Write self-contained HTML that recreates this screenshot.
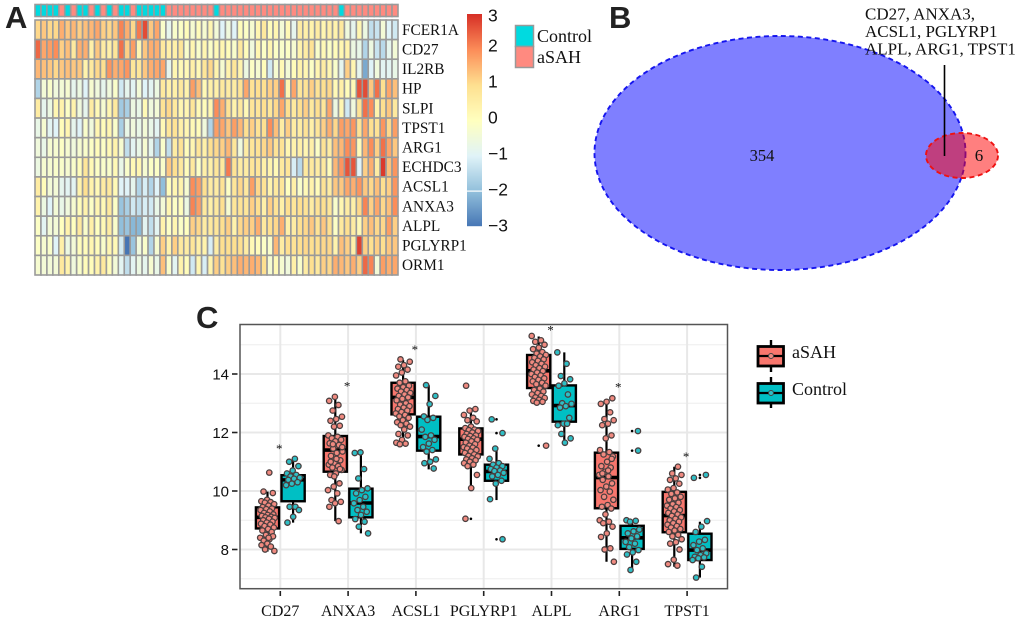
<!DOCTYPE html>
<html lang="en">
<head>
<meta charset="utf-8">
<title>aSAH figure: heatmap, Venn diagram and boxplots</title>
<style>
html,body{margin:0;padding:0;background:#fff;}
svg{display:block;}
.serif{font-family:"Liberation Serif",serif;fill:#111;}
.sans{font-family:"Liberation Sans",sans-serif;fill:#111;}
.letter{font-family:"Liberation Sans",sans-serif;font-weight:700;font-size:31px;fill:#222;}
</style>
</head>
<body>
<svg id="fig" width="1020" height="621" viewBox="0 0 1020 621" xmlns="http://www.w3.org/2000/svg">
  <text class="letter" x="5" y="28">A</text>
  <text class="letter" x="609" y="28">B</text>
  <text class="letter" x="196" y="328">C</text>

  <g id="annotation"></g>
  <g id="heat"></g>
  <g id="heatLabels"></g>
  <g id="colorbar"></g>

  <g>
    <rect x="515.5" y="25.5" width="18" height="21" fill="#00DAE0" stroke="#999" stroke-width="1.5"/>
    <rect x="515.5" y="46.5" width="18" height="21" fill="#FF8A80" stroke="#999" stroke-width="1.5"/>
    <text class="serif" x="537" y="42" font-size="18">Control</text>
    <text class="serif" x="537" y="63" font-size="18">aSAH</text>
  </g>

  <g>
    <ellipse cx="780" cy="153" rx="185.5" ry="117" fill="#7F7FFF" stroke="#1515EE" stroke-width="1.9" stroke-dasharray="5 3.5"/>
    <ellipse cx="962" cy="155.5" rx="36" ry="22.5" fill="rgba(255,0,0,0.5)" stroke="#EE1111" stroke-width="1.9" stroke-dasharray="5 3.5"/>
    <text class="serif" x="762" y="161" font-size="16.500" text-anchor="middle">354</text>
    <text class="serif" x="979" y="161" font-size="17" text-anchor="middle">6</text>
    <line x1="944.5" y1="65" x2="944.5" y2="156" stroke="#000" stroke-width="1.6"/>
    <text class="serif" x="865" y="19.500" font-size="17">CD27, ANXA3,</text>
    <text class="serif" x="865" y="37" font-size="17">ACSL1, PGLYRP1</text>
    <text class="serif" x="865" y="54.500" font-size="17">ALPL, ARG1, TPST1</text>
  </g>

  <g id="box"></g>

  <g>
    <line x1="771" y1="340" x2="771" y2="372" stroke="#000" stroke-width="2.4"/>
    <rect x="758" y="346.500" width="25.500" height="19.500" fill="#F8766D" stroke="#000" stroke-width="2.800"/>
    <line x1="758" y1="356" x2="784" y2="356" stroke="#000" stroke-width="2.200"/>
    <circle cx="771" cy="356" r="2.500" fill="#F08A80" stroke="#444"/>
    <text class="serif" x="792" y="358" font-size="18">aSAH</text>
    <line x1="771" y1="377" x2="771" y2="408" stroke="#000" stroke-width="2.4"/>
    <rect x="758" y="383.500" width="25.500" height="19.500" fill="#00BFC4" stroke="#000" stroke-width="2.800"/>
    <line x1="758" y1="393" x2="784" y2="393" stroke="#000" stroke-width="2.200"/>
    <circle cx="771" cy="393" r="2.500" fill="#2FBFC6" stroke="#444"/>
    <text class="serif" x="792" y="395" font-size="18">Control</text>
  </g>
</svg>

<script>
/* ---------- Heatmap data ---------- */
const heatGenes = ["FCER1A","CD27","IL2RB","HP","SLPI","TPST1","ARG1","ECHDC3","ACSL1","ANXA3","ALPL","PGLYRP1","ORM1"];
const controlColumns = [0,1,2,3,5,7,8,10,12,14,15,17,18,19,20,21,30,51];
const colorbarTicks = [3,2,1,0,-1,-2,-3];
const heatFCER1A = [1.1,1.3,1.1,1.1,1.6,1.3,1.5,1.2,1.4,1.5,1.7,1.2,1.1,1.3,2.1,1.6,1.1,2.2,2.7,1.3,1.7,-.2,-.8,-.2,-.1,.1,-.3,.1,-.3,.3,-.4,-1,-.5,-1,.1,-.1,-.3,.3,.7,.1,.3,-.4,.2,-.8,.6,.5,.4,.6,.3,.5,.4,.7,-.5,-.8,.3,-.6,-1.4,-1.3,-.4,-1,-1.2];
const heatCD27 = [2.4,1.7,1.8,2,1.2,1.4,.7,1.6,1.6,.5,1.3,.6,.5,.8,2.3,1.2,1.8,.3,1.3,1.6,1.6,.7,.5,.5,.8,-.2,.3,-.2,.3,-.1,.2,.3,.1,-.2,.7,.1,-.5,.3,-.1,.3,-.1,-.2,-.1,-.3,.4,.6,.9,-.2,.2,-.1,.1,.3,.4,-.6,-.7,-1.6,-.6,-1.3,-1.5,-.8,-.4];
const heatIL2RB = [1.5,1.4,1.3,1.1,1.3,1.4,1.3,1.3,.4,.7,1.1,1,1.9,1.6,1.7,1.9,.8,.8,1.3,1.6,1.7,1.7,-.8,.3,.2,.2,.5,.2,.8,1.1,.4,-.3,.4,.8,.4,-.6,-.1,-.3,.1,-1.2,-.3,.2,-.4,.1,.4,.3,-.1,.3,.6,.3,-.2,-.8,1.2,.3,-.8,-2.3,-1,-.5,-.9,-.9,-.7];
const heatHP = [-1.6,-.4,-.2,-.5,-.4,-.3,-.8,-.6,-1,-.3,-.5,-.8,-.5,-.2,-1.2,-.8,-.9,-.4,-1,-.9,-.6,.7,.5,.5,.7,.4,1.8,1.4,.2,.5,.5,.7,.6,.6,.9,1.7,.9,1,1,1.2,1.2,2.3,.3,1.7,.8,.9,1.2,.9,1,1.1,.2,.5,.1,.2,2.6,2.7,1.3,2.3,1,1.7,1.4];
const heatSLPI = [.6,-.8,-.6,.3,.4,-.1,.4,-.5,-.8,.6,.2,-.3,.3,.7,-1.8,-1.7,-.6,-.7,.2,-.5,-.4,.9,1.1,.7,.3,.3,.8,.2,.1,.3,2,1.6,.9,.4,.7,.2,.8,.8,1,.8,1.1,1.7,1,.7,1,1.2,.7,1,.8,1.7,-.6,.3,-1.2,-.5,.9,2.3,2,.4,1,1.3,.7];
const heatTPST1 = [-.7,-.3,-.9,-1,.1,.3,-.8,-1,-.2,-.5,.3,.1,.3,-.2,-1.7,-.7,-.5,-.7,-.4,-.7,-.9,.2,.8,.9,.5,.3,.2,.1,-.5,-1.6,1.8,1.7,1.3,1.8,1.5,1,1.2,.9,1,2,1.4,.6,1.2,.6,.6,.9,.5,.8,1.2,1.6,1.1,1.8,1.7,1.9,.9,1.7,1,.9,1.9,1.1,1.8];
const heatARG1 = [-.5,-.7,-.3,-.3,-.1,-.3,-.5,-.3,-.2,-.1,.1,-.1,.2,.4,-.3,-1.4,-.9,-.7,-.3,-.8,-1.6,-.2,-1.4,.6,.9,.1,.3,.8,.5,1,1.1,1.2,1.5,.8,-.5,.6,.8,.9,1.1,1.3,.9,.9,.3,.4,.5,.3,.5,-.1,.9,.6,1.4,1.5,2,1.9,.1,1.5,2,1.2,2.3,1.7,1.3];
const heatECHDC3 = [-.6,-.3,-.3,-.2,-.2,-.3,-.2,.1,.8,.2,-.1,-.2,-.2,.2,-.7,-.2,.2,.3,-.3,-.1,-.1,-.2,1.3,1,.7,.1,.7,-.1,.5,.5,.8,.7,2.2,.9,.6,.6,.8,.8,.5,.4,.2,.7,.8,-1.1,-1.5,.7,.7,.6,.7,.1,1.5,1.9,2.6,2.6,-1,1.2,1.6,.6,2.9,1.4,1.9];
const heatACSL1 = [.6,.1,-.4,-.4,-.8,-.9,-.9,.4,1,.4,.2,.6,.7,.2,-1,-1,-.8,-1.6,-1.1,-1.6,-1,-2,.1,.3,.4,-.3,2,1.8,1,.6,.6,.9,-.1,.8,1.1,.7,1.8,1.1,.9,.4,.7,.8,0,.5,-.2,.2,.4,.1,.9,.6,1.3,1.3,1.7,1.6,1.9,1.3,1.1,1.4,1,1.2,1.9];
const heatANXA3 = [.4,-.6,-1,-.4,-.7,-.5,-.3,.1,.4,-.1,.3,.2,.7,-.1,-1.9,-1.7,-1.2,-1.4,-1.1,-1.2,-.7,-.4,.3,-.1,.1,-.6,2.1,1.8,.7,.5,.7,1,-.3,.8,.9,.8,1.2,1,.5,1.2,.9,.5,1,.8,1,.9,.6,.9,1,.8,-.2,.3,.6,.5,1.1,2.1,1.2,1.7,1.1,1.4,2];
const heatALPL = [-.1,-.9,-.4,-.4,0,.4,0,.7,-.2,.5,0,.2,.6,-.2,-2,-1.9,-2.1,-2.1,-.9,-1.4,-.9,.4,-.1,.3,-.1,0,1.2,1.1,.6,.7,.8,1,1.2,.4,1.1,1.2,1.2,1.6,.7,1,1.1,1.6,.5,.6,1,1.1,1.3,.9,1.3,1,-.1,.7,1,.6,.2,1.2,1.4,1.1,1.1,1.8,1.2];
const heatPGLYRP1 = [-.1,-.3,-.2,-1,.5,-.6,-.4,.1,.1,.3,.1,-.2,.3,.2,-1.2,-3,-1.9,-.5,-.2,-1.6,-.3,1.2,.4,1.2,.7,.6,.8,.5,.4,-1.1,.6,1,1,1,1,.6,.2,.1,-.1,-.2,1.5,.6,1,.9,1,1.1,1,1,1.1,1.1,.4,1.4,1.2,.5,2.8,1.2,1,1.2,1,1.3,1.3];
const heatORM1 = [-.3,-.4,-.4,-.4,.7,.4,-.5,-.2,.1,.1,.4,.7,.1,-.4,-.9,-1.4,-.9,-.6,-.8,-.3,-.7,1.4,-.2,-.9,.4,.1,-1.2,.3,-1.1,.4,1.2,.9,1.2,1.4,1.6,1.5,1.6,1.5,1,-.3,.2,-.3,-.5,.5,-.2,.6,1,.7,1.2,1.1,1.6,1.5,1.3,1.6,1.2,2.4,2.1,-.4,1.8,1.6,1.7];
const heatRows = [heatFCER1A,heatCD27,heatIL2RB,heatHP,heatSLPI,heatTPST1,heatARG1,heatECHDC3,heatACSL1,heatANXA3,heatALPL,heatPGLYRP1,heatORM1];

/* ---------- Boxplot data ---------- */
const boxGenes = ["CD27","ANXA3","ACSL1","PGLYRP1","ALPL","ARG1","TPST1"];
const yTicks = [8,10,12,14];
const yMinorGrid = [7,9,11,13,15];
const asahQ1 = [8.72,10.66,12.62,11.25,13.52,9.41,8.59];
const asahMedian = [9.1,11.4,13.2,11.77,14.11,10.46,9.16];
const asahQ3 = [9.44,11.88,13.7,12.14,14.65,11.31,9.97];
const asahWhiskerLow = [7.93,8.97,11.57,10.09,13.0,7.58,7.41];
const asahWhiskerHigh = [9.98,13.2,14.48,12.83,15.28,13.05,10.83];
const controlQ1 = [9.65,9.1,11.38,10.35,12.37,8.02,7.64];
const controlMedian = [10.38,9.59,11.86,10.67,12.92,8.4,7.98];
const controlQ3 = [10.54,10.08,12.54,10.9,13.61,8.81,8.54];
const controlWhiskerLow = [8.92,8.55,10.74,9.69,11.63,7.36,7.04];
const controlWhiskerHigh = [11.1,11.32,13.62,11.46,14.74,9.0,8.95];
const starLevels = [11.49,13.62,14.88,null,15.53,13.59,11.21];
const asahOutliers = [[],[],[],[9.05],[11.55],[],[]];
const controlOutliers = [[],[],[],[12.45,11.98,8.35],[],[12.05,11.38],[10.55,10.45]];

const ptsCD27Asah = [10.63,9.98,9.93,9.7,9.65,9.62,9.6,9.55,9.5,9.45,9.4,9.38,9.35,9.3,9.25,9.2,9.18,9.15,9.12,9.1,9.08,9.05,9.0,8.95,8.92,8.88,8.85,8.8,8.75,8.7,8.65,8.6,8.5,8.4,8.35,8.3,8.45,8.2,8.15,8.1,8.0,7.95,8.4];
const ptsCD27Control = [11.1,11.0,10.85,10.7,10.6,10.55,10.5,10.45,10.42,10.38,10.3,10.25,10.2,9.46,9.46,9.35,9.12,8.92];
const ptsANXA3Asah = [13.22,13.08,12.94,12.75,12.54,12.46,12.4,12.23,12.2,11.9,11.85,11.8,11.75,11.7,11.63,11.57,11.45,11.35,11.3,11.2,11.05,10.95,10.9,10.85,10.8,10.72,10.6,10.55,10.26,10.15,10.03,9.92,9.69,9.63,9.58,9.46,8.97,11.6,11.5,11.1,11.0,10.75,10.5];
const ptsANXA3Control = [11.32,11.3,10.75,10.43,10.09,10.03,9.92,9.8,9.69,9.58,9.46,9.35,9.29,9.18,9.04,8.95,8.78,8.55];
const ptsACSL1Asah = [14.5,14.42,14.3,14.25,14.15,14.05,13.95,13.75,13.7,13.6,13.55,13.5,13.45,13.4,13.35,13.3,13.25,13.2,13.15,13.1,13.0,12.95,12.9,12.85,12.8,12.75,12.7,12.65,12.6,12.55,12.5,12.42,12.35,12.3,12.25,12.2,12.1,11.95,11.9,11.75,11.65,11.62,11.6];
const ptsACSL1Control = [13.62,13.25,12.97,12.55,12.5,12.43,12.1,11.9,11.85,11.75,11.62,11.5,11.4,11.35,11.08,11.0,10.95,10.77];
const ptsPGLYRP1Asah = [13.6,12.8,12.75,12.6,12.5,12.42,12.38,12.2,12.15,12.1,12.08,12.05,12.0,11.95,11.9,11.88,11.85,11.8,11.78,11.75,11.7,11.65,11.6,11.55,11.5,11.48,11.45,11.4,11.35,11.3,11.25,11.2,11.18,11.12,11.08,11.05,11,10.95,10.9,10.85,10.55,10.1,9.05];
const ptsPGLYRP1Control = [12.45,11.98,11.45,11.1,10.95,10.9,10.85,10.8,10.75,10.7,10.68,10.62,10.55,10.5,10.35,10.25,9.72,8.35];
const ptsALPLAsah = [15.3,15.15,15.1,15,14.9,14.85,14.75,14.7,14.65,14.6,14.55,14.5,14.45,14.4,14.35,14.3,14.25,14.2,14.15,14.1,14.05,14,13.95,13.9,13.85,13.8,13.75,13.7,13.65,13.6,13.5,13.45,13.4,13.35,13.3,13.25,13.2,13.18,13.12,13.08,13.05,13.02,11.55];
const ptsALPLControl = [14.74,14.35,13.93,13.82,13.68,13.6,13.3,13.0,12.98,12.9,12.85,12.5,12.3,12.25,12.3,11.95,11.8,11.65];
const ptsARG1Asah = [13.17,13.05,12.98,12.69,12.46,12.42,12.3,12.25,11.9,11.8,11.4,11.33,11.25,11.18,11.0,10.85,10.8,10.66,10.55,10.5,10.38,10.26,10.15,10.03,9.98,9.8,9.7,9.52,9.46,9.4,9.2,9.0,8.95,8.9,8.78,8.55,8.43,8.04,8.0,7.58,10.7,10.6,11.1];
const ptsARG1Control = [12.05,11.38,9.0,8.98,8.95,8.68,8.62,8.55,8.45,8.38,8.26,8.2,8.08,7.98,7.9,7.83,7.58,7.3];
const ptsTPST1Asah = [10.83,10.6,10.55,10.43,10.38,10.25,10.1,10.05,9.95,9.9,9.8,9.75,9.7,9.6,9.55,9.5,9.45,9.4,9.35,9.3,9.25,9.2,9.15,9.1,9.05,9,8.95,8.9,8.85,8.8,8.75,8.7,8.65,8.6,8.5,8.45,8.35,8.25,8.2,8.0,7.65,7.5,7.45];
const ptsTPST1Control = [10.55,10.45,8.97,8.78,8.6,8.33,8.27,8.15,8.04,7.98,7.87,7.81,7.75,7.73,7.7,7.64,7.41,7.04];
const asahPoints = [ptsCD27Asah,ptsANXA3Asah,ptsACSL1Asah,ptsPGLYRP1Asah,ptsALPLAsah,ptsARG1Asah,ptsTPST1Asah];
const controlPoints = [ptsCD27Control,ptsANXA3Control,ptsACSL1Control,ptsPGLYRP1Control,ptsALPLControl,ptsARG1Control,ptsTPST1Control];

/* ---------- Helpers ---------- */
const NS = "http://www.w3.org/2000/svg";
function mk(parent, tag, attrs, text) {
  const el = document.createElementNS(NS, tag);
  for (const k in attrs) el.setAttribute(k, attrs[k]);
  if (text !== undefined) el.textContent = text;
  parent.appendChild(el);
  return el;
}
const scaleStops = [[-3,[69,117,180]],[-2,[145,191,219]],[-1,[224,243,248]],[0,[255,255,191]],[1,[254,224,144]],[2,[252,141,89]],[3,[215,48,39]]];
function heatColor(v) {
  const c = Math.max(-3, Math.min(3, v));
  for (let i = 0; i < scaleStops.length - 1; i++) {
    const a = scaleStops[i], b = scaleStops[i + 1];
    if (c <= b[0]) {
      const t = c - a[0];
      return "rgb(" + a[1].map((x, j) => Math.round(x + (b[1][j] - x) * t)).join(",") + ")";
    }
  }
  return "rgb(215,48,39)";
}

/* ---------- Heatmap ---------- */
const heatLeft = 35, heatTop = 20, colPitch = 363 / 61, rowPitch = 255 / 13;
const colX = i => heatLeft + colPitch * i;
const rowY = r => heatTop + rowPitch * r;
const annotation = document.getElementById("annotation");
const heat = document.getElementById("heat");
const heatLabels = document.getElementById("heatLabels");
for (let i = 0; i < 61; i++) {
  const isControl = controlColumns.includes(i);
  const a = mk(annotation, "rect", {x: colX(i), y: 4.5, width: colPitch, height: 12, fill: isControl ? "#00DAE0" : "#FF8A80", stroke: "#9a9a9a", "stroke-width": 1.6});
  
  
}
heatRows.forEach((row, r) => {
  row.forEach((v, i) => {
    const c = mk(heat, "rect", {x: colX(i), y: rowY(r), width: colPitch, height: rowPitch, fill: heatColor(v), stroke: "#9a9a9a", "stroke-width": 1.6});
    
    
  });
  const t = mk(heatLabels, "text", {class: "serif", x: 402, y: rowY(r) + rowPitch / 2 + 5, "font-size": 15.3}, heatGenes[r]);
  
  
});

/* ---------- Colour bar ---------- */
const colorbar = document.getElementById("colorbar");
const barTop = 14, barPx = 35.4;
const barLabelY = v => Math.max(15, 225 - 36 * (v + 3));
for (let y = 0; y < 212; y++) {
  const v = 3 - y / barPx;
  const s = mk(colorbar, "rect", {x: 467, y: barTop + y, width: 15, height: 1.2, fill: heatColor(v)});
  
  
}
const gap = mk(colorbar, "rect", {x: 467, y: 190.5, width: 15, height: 1.2, fill: "#fff"});


colorbarTicks.forEach(v => {
  const label = mk(colorbar, "text", {class: "sans", x: 488, y: barLabelY(v) + 6.5, "font-size": 17.5}, v < 0 ? "\u2212" + (-v) : String(v));
  
  
});

/* ---------- Boxplot ---------- */
const box = document.getElementById("box");
const panel = {left: 240, right: 727.5, top: 324.5, bottom: 588.7};
const yScale = v => 549.5 - (v - 8) * 29.25;
const xBand = i => 280.3 + 67.8 * i;
const boxOffset = 12.8, boxHalf = 11.6;

const panelBg = mk(box, "rect", {x: panel.left, y: panel.top, width: panel.right - panel.left, height: panel.bottom - panel.top, fill: "#fff"});


yMinorGrid.forEach(v => {
  const g = mk(box, "line", {x1: panel.left, x2: panel.right, y1: yScale(v), y2: yScale(v), stroke: "#EDEDED", "stroke-width": 1});
  
  
});
yTicks.forEach(v => {
  const g = mk(box, "line", {x1: panel.left, x2: panel.right, y1: yScale(v), y2: yScale(v), stroke: "#E8E8E8", "stroke-width": 2});
  
  
  const tick = mk(box, "line", {x1: 232, x2: 237.5, y1: yScale(v), y2: yScale(v), stroke: "#222", "stroke-width": 1.6});
  
  
  const label = mk(box, "text", {class: "sans", x: 229, y: yScale(v) + 5.5, "font-size": 15, "text-anchor": "end"}, String(v));
  
  
});
boxGenes.forEach((gene, i) => {
  const g = mk(box, "line", {x1: xBand(i), x2: xBand(i), y1: panel.top, y2: panel.bottom, stroke: "#E8E8E8", "stroke-width": 2});
  
  
  const tick = mk(box, "line", {x1: xBand(i), x2: xBand(i), y1: 591, y2: 596, stroke: "#222", "stroke-width": 1.6});
  
  
  const label = mk(box, "text", {class: "serif", x: xBand(i), y: 616, "font-size": 16, "text-anchor": "middle"}, gene);
  
  
});

function drawGroup(i, cx, q1, med, q3, lo, hi, fill, dotFill, pts, outliers, groupName) {
  const w = mk(box, "line", {x1: cx, x2: cx, y1: yScale(hi), y2: yScale(lo), stroke: "#000", "stroke-width": 2.2});
  
  
  const r = mk(box, "rect", {x: cx - boxHalf, y: yScale(q3), width: boxHalf * 2, height: yScale(q1) - yScale(q3), fill: fill, stroke: "#000", "stroke-width": 2.4});
  
  
  const m = mk(box, "line", {x1: cx - boxHalf, x2: cx + boxHalf, y1: yScale(med), y2: yScale(med), stroke: "#000", "stroke-width": 3.6});
  
  
  pts.forEach((v, k) => {
    /* low-discrepancy horizontal jitter; only the y value comes from the data */
    let off = (((k + i * 3 + 1) * 0.618034) % 1 - 0.5) * 15;
    if (outliers.includes(v) && Math.abs(off) < 4.5) off = off < 0 ? -6 : 6;
    const d = mk(box, "circle", {cx: cx + off, cy: yScale(v), r: 2.7, fill: dotFill, stroke: "#4a3f3f", "stroke-width": 1.3});
    
    
  });
  outliers.forEach(v => {
    const o = mk(box, "circle", {cx: cx, cy: yScale(v), r: 1.3, fill: "#000"});
    
    
  });
}
boxGenes.forEach((gene, i) => {
  drawGroup(i, xBand(i) - boxOffset, asahQ1[i], asahMedian[i], asahQ3[i], asahWhiskerLow[i], asahWhiskerHigh[i], "#F8766D", "#F08A80", asahPoints[i], asahOutliers[i], "asah");
  drawGroup(i, xBand(i) + boxOffset, controlQ1[i], controlMedian[i], controlQ3[i], controlWhiskerLow[i], controlWhiskerHigh[i], "#00BFC4", "#2FBFC6", controlPoints[i], controlOutliers[i], "control");
  if (starLevels[i] !== null) {
    const s = mk(box, "text", {class: "serif", x: xBand(i) - 1, y: yScale(starLevels[i]) + 5.5, "font-size": 13, "text-anchor": "middle"}, "*");
    
    
  }
});
const border = mk(box, "rect", {x: panel.left, y: panel.top, width: panel.right - panel.left, height: panel.bottom - panel.top, fill: "none", stroke: "#555", "stroke-width": 1.5});


</script>
</body>
</html>
